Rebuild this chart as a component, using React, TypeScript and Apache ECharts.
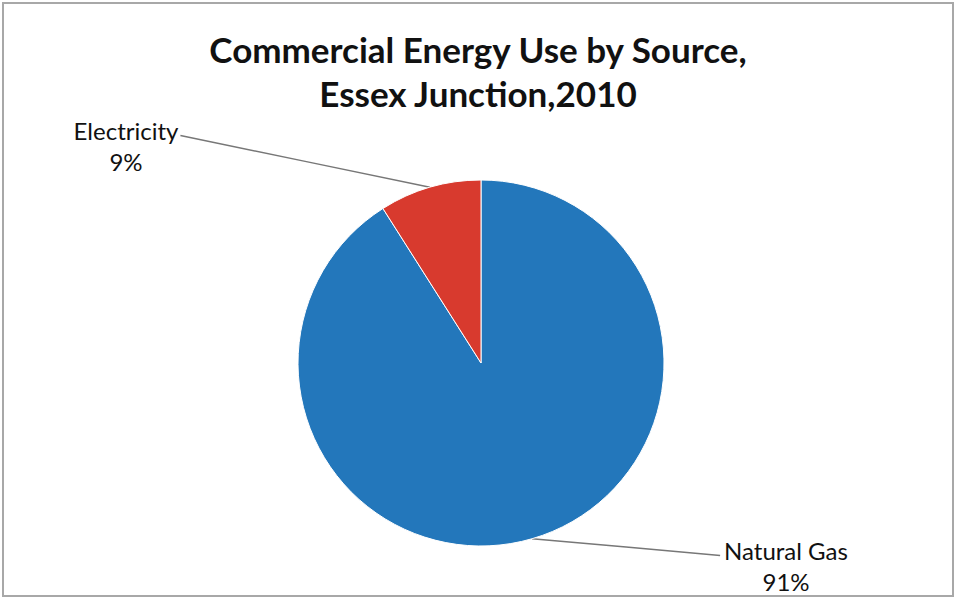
import React, { useEffect, useRef } from "react";
import * as echarts from "echarts";

const titleLines = ["Commercial Energy Use by Source,", "Essex Junction,2010"];
const categories = ["Natural Gas", "Electricity"];
const values = [91, 9];
const colors = ["#2377bb", "#d83a2e"];

// label anchor positions (centers of label text blocks)
const labelPos: Record<string, [number, number]> = {
  "Natural Gas": [786, 566],
  Electricity: [126, 146],
};

export default function App() {
  const ref = useRef<HTMLDivElement>(null);
  useEffect(() => {
    document.body.style.margin = "0";
    const chart = echarts.init(ref.current!, null, { renderer: "svg" });
    const font = "Lato, 'Open Sans', sans-serif";
    chart.setOption({
      animation: false,
      backgroundColor: "#ffffff",
      title: {
        text: titleLines.join("\n"),
        left: "center",
        top: 22,
        textStyle: {
          fontFamily: font,
          fontWeight: "bold",
          fontSize: 35,
          lineHeight: 44,
          color: "#111",
        },
      },
      graphic: [
        {
          type: "rect",
          shape: { x: 3, y: 3, width: 950, height: 593 },
          style: { fill: "none", stroke: "#a8a8a8", lineWidth: 2 },
          silent: true,
        },
      ],
      series: [
        {
          type: "pie",
          center: [481, 363],
          radius: 183,
          startAngle: 90,
          clockwise: true,
          itemStyle: { borderColor: "#ffffff", borderWidth: 1 },
          data: categories.map((c, i) => ({
            name: c,
            value: values[i],
            itemStyle: { color: colors[i] },
          })),
          label: {
            show: true,
            formatter: "{b}\n{d}%",
            fontFamily: font,
            fontSize: 24,
            lineHeight: 31,
            color: "#111",
            align: "center",
          },
          labelLine: {
            show: true,
            length: 20,
            length2: 20,
            lineStyle: { color: "#777", width: 1.5 },
          },
          labelLayout: (params: any) => {
            const name = categories[params.dataIndex];
            const [x, y] = labelPos[name];
            const w = params.labelRect.width;
            const h = params.labelRect.height;
            const pts = params.labelLinePoints;
            const start = pts ? pts[0] : [x, y];
            const isLeft = x < 481;
            const endX = isLeft ? x + w / 2 + 2 : x - w / 2 - 4;
            const endY = y - h / 4 + 5;
            return {
              x,
              y,
              align: "center",
              verticalAlign: "middle",
              labelLinePoints: [
                start,
                [(start[0] + endX) / 2, (start[1] + endY) / 2],
                [endX, endY],
              ],
            };
          },
        },
      ],
    });
    return () => chart.dispose();
  }, []);
  return (
    <div
      ref={ref}
      style={{ position: "fixed", left: 0, top: 0, width: 956, height: 601 }}
    />
  );
}
